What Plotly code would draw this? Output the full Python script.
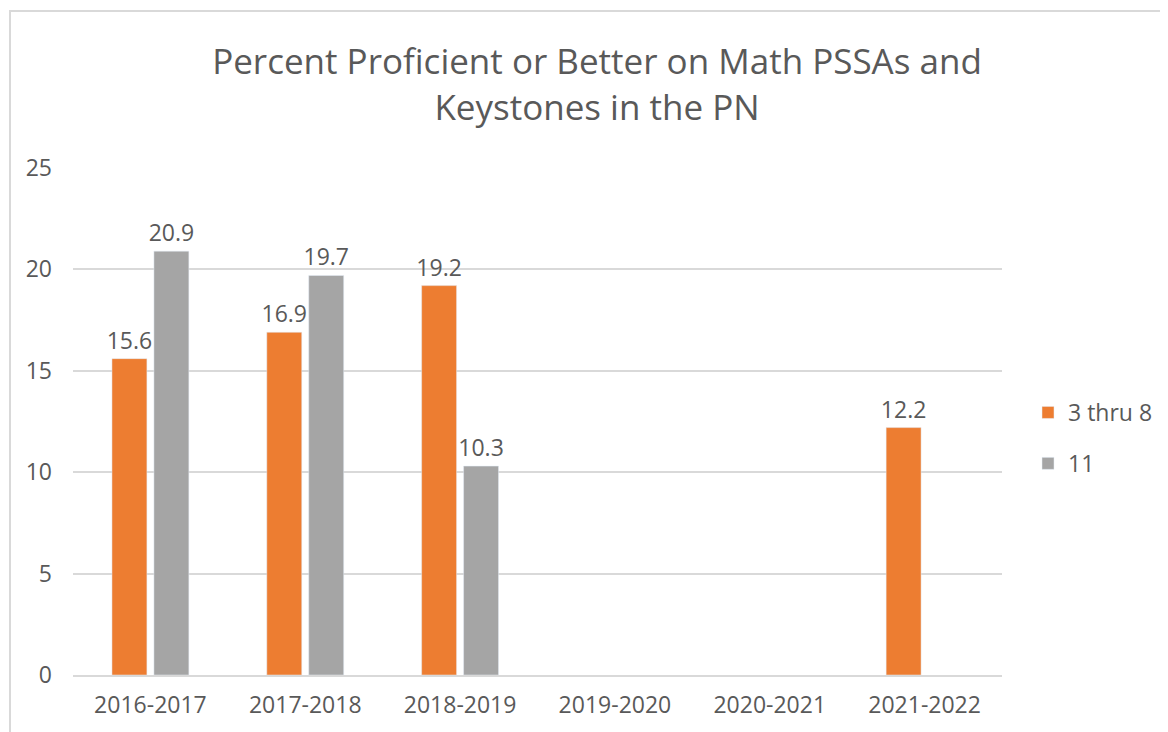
import plotly.graph_objects as go


# ==========================================================
# Data
# ==========================================================

years = ["2016-2017", "2017-2018", "2018-2019", "2019-2020", "2020-2021", "2021-2022"]
grades_3_8 = [15.6, 16.9, 19.2, None, None, 12.2]
grade_11 = [20.9, 19.7, 10.3, None, None, None]

ORANGE = "#ED7D31"
GRAY = "#A5A5A5"
TEXT = "#595959"
GRID = "#D9D9D9"
FONT = "Open Sans"

# page offset of the figure inside the browser window
OFF = 8


# ==========================================================
# Chart
# ==========================================================

fig = go.Figure()

fig.add_trace(
    go.Bar(
        x=years,
        y=grades_3_8,
        name="3 thru 8",
        legendgroup="a",
        marker=dict(color=ORANGE),
        text=[f"{v}" if v is not None else "" for v in grades_3_8],
        textposition="outside",
        constraintext="none",
        textfont=dict(size=23, color=TEXT, family=FONT),
        cliponaxis=False
    )
)

fig.add_trace(
    go.Bar(
        x=years,
        y=grade_11,
        name="11",
        legendgroup="b",
        marker=dict(color=GRAY),
        text=[f"{v}" if v is not None else "" for v in grade_11],
        textposition="outside",
        constraintext="none",
        textfont=dict(size=23, color=TEXT, family=FONT),
        cliponaxis=False
    )
)

# plot area in window pixels: x 73..1002, y 168..675
left, right, top, bottom = 73, 1002, 168, 675
pw = right - left
ph = bottom - top

fig.add_shape(
    type="rect",
    xref="paper", yref="paper",
    x0=(10 - left) / pw, x1=(1190 - left) / pw,
    y0=(bottom - 760) / ph, y1=(bottom - 11) / ph,
    line=dict(color=GRID, width=2),
    layer="below"
)

fig.update_layout(
    width=1168,
    height=732,
    margin=dict(
        l=left - OFF,
        r=1168 + OFF - right,
        t=top - OFF,
        b=732 + OFF - bottom
    ),
    paper_bgcolor="white",
    plot_bgcolor="white",
    font=dict(family=FONT, color=TEXT),
    title=dict(
        text="Percent Proficient or Better on Math PSSAs and<br>Keystones in the PN",
        x=(597 - OFF) / 1168,
        xanchor="center",
        y=1 - 66 / 732,
        yanchor="middle",
        font=dict(size=35, color=TEXT, family=FONT)
    ),
    barmode="group",
    bargap=0.458,
    bargroupgap=0.167,
    showlegend=True,
    legend=dict(
        xref="container",
        yref="container",
        x=(1028 - OFF) / 1168,
        y=1 - (438 - OFF) / 732,
        xanchor="left",
        yanchor="middle",
        font=dict(size=23, color=TEXT, family=FONT),
        traceorder="grouped",
        tracegroupgap=18,
        itemwidth=30
    ),
    xaxis=dict(
        showgrid=False,
        showline=True,
        linecolor=GRID,
        linewidth=2,
        ticks="",
        tickfont=dict(size=23, color=TEXT, family=FONT),
        ticklabelstandoff=8
    ),
    yaxis=dict(
        range=[0, 25],
        dtick=5,
        showgrid=True,
        gridcolor=GRID,
        gridwidth=2,
        zeroline=False,
        showline=False,
        ticks="",
        tickfont=dict(size=23, color=TEXT, family=FONT),
        ticklabelstandoff=20
    )
)

fig.write_html("out.html")
